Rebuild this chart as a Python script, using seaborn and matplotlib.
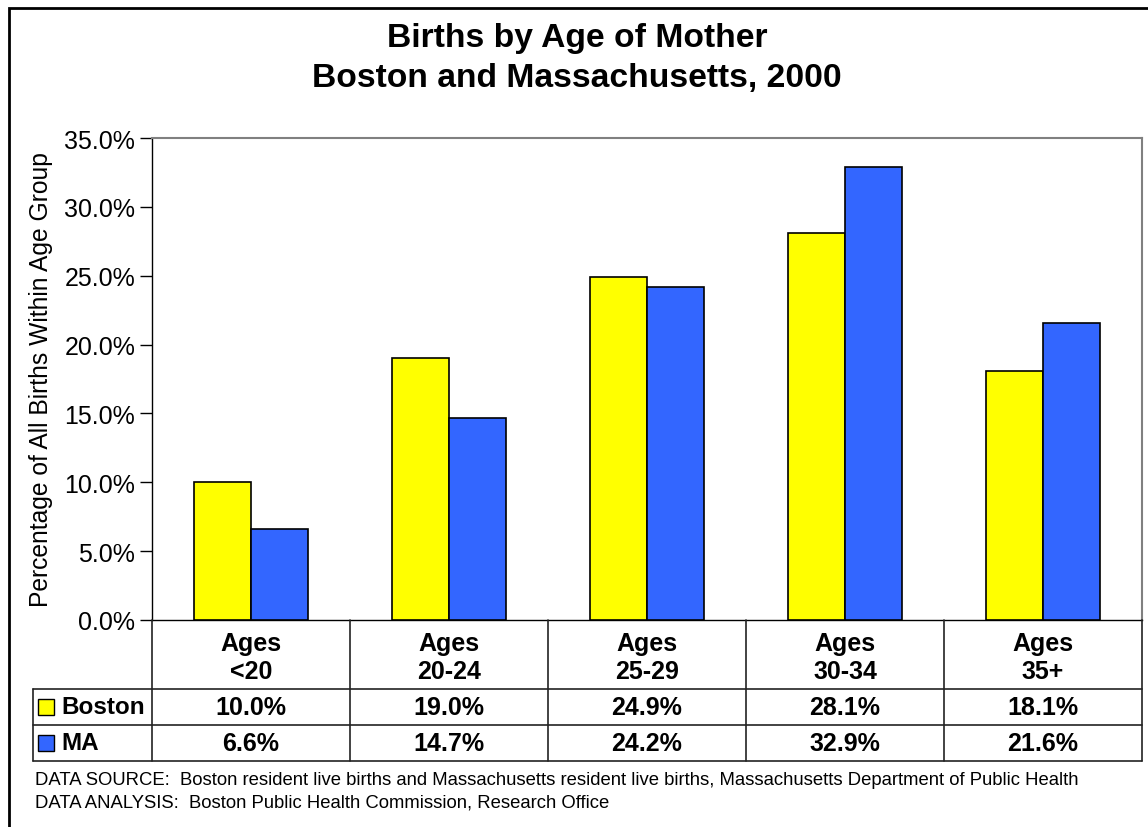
import pandas as pd
import numpy as np
import seaborn as sns
import matplotlib.pyplot as plt
from matplotlib.patches import Rectangle

# data
age_groups = ['Ages\n<20', 'Ages\n20-24', 'Ages\n25-29', 'Ages\n30-34', 'Ages\n35+']
boston = [10.0, 19.0, 24.9, 28.1, 18.1]
ma = [6.6, 14.7, 24.2, 32.9, 21.6]
series = ['Boston', 'MA']
colors = ['#FFFF00', '#3366FF']

df = pd.DataFrame({'group': age_groups * 2,
                   'pct': boston + ma,
                   'area': ['Boston'] * 5 + ['MA'] * 5})

sns.set_style('white')
plt.rcParams['font.family'] = 'sans-serif'
plt.rcParams['font.sans-serif'] = ['Liberation Sans', 'Arial', 'DejaVu Sans']
plt.rcParams['text.color'] = 'black'
plt.rcParams['axes.labelcolor'] = 'black'
plt.rcParams['ytick.color'] = 'black'

W, H = 1148, 828
fig = plt.figure(figsize=(W / 100, H / 100), dpi=100)

def fx(px):
    return px / W

def fy(py):
    return 1 - py / H

# outer frame
fig.patches.append(Rectangle((fx(9), fy(1000)), fx(1200), fy(9) - fy(1000),
                             transform=fig.transFigure, fill=False,
                             edgecolor='black', linewidth=2))

# main bar axes
ax = fig.add_axes([fx(152), fy(621), fx(1142) - fx(152), fy(139) - fy(621)])
sns.barplot(data=df, x='group', y='pct', hue='area', palette=colors, saturation=1,
            width=0.576, edgecolor='black', linewidth=1.2, ax=ax,
            legend=False, zorder=3)
ax.set_xlim(-0.5, 4.5)
ax.set_ylim(0, 35)
ax.set_yticks(np.arange(0, 35.1, 5))
ax.set_yticklabels([f'{v:.1f}%' for v in np.arange(0, 35.1, 5)], fontsize=18)
ax.set_xticks([])
ax.set_xlabel('')
ax.set_ylabel('Percentage of All Births Within Age Group', fontsize=17.7, labelpad=8)
ax.tick_params(axis='y', direction='out', length=9, width=1, color='black', pad=3, left=True)
for s in ['top', 'right']:
    ax.spines[s].set_color('#808080')
    ax.spines[s].set_linewidth(1.5)
ax.spines['left'].set_color('black')
ax.spines['bottom'].set_color('black')
ax.spines['left'].set_linewidth(1)
ax.spines['bottom'].set_linewidth(1)

# title
fig.text(fx(577), fy(38), 'Births by Age of Mother', ha='center', va='center',
         fontsize=24.2, fontweight='bold')
fig.text(fx(577), fy(78), 'Boston and Massachusetts, 2000', ha='center', va='center',
         fontsize=24.2, fontweight='bold')

# data table below the chart
leg_w = 119 / 198
tab = fig.add_axes([fx(33), fy(762), fx(1142) - fx(33), fy(621) - fy(762)])
tab.set_xlim(-0.5 - leg_w, 4.5)
tab.set_ylim(0, 141)
tab.axis('off')
lw = 1.2
lc = '#222222'
for x in np.arange(-0.5, 4.6, 1):
    tab.plot([x, x], [0, 141], color=lc, lw=lw, clip_on=False)
tab.plot([-0.5 - leg_w] * 2, [0, 72], color=lc, lw=lw, clip_on=False)
for y in [0, 36, 72]:
    tab.plot([-0.5 - leg_w, 4.5], [y, y], color=lc, lw=lw, clip_on=False)

for i, g in enumerate(age_groups):
    tab.text(i, 104, g, ha='center', va='center', fontsize=18, fontweight='bold',
             linespacing=1.2)
    tab.text(i, 54, f'{boston[i]:.1f}%', ha='center', va='center', fontsize=18,
             fontweight='bold')
    tab.text(i, 18, f'{ma[i]:.1f}%', ha='center', va='center', fontsize=18,
             fontweight='bold')

x0 = -0.5 - leg_w
for name, col, y in zip(series, colors, [54, 18]):
    tab.add_patch(Rectangle((x0 + 0.025, y - 8), 0.081, 16,
                            facecolor=col, edgecolor='black', lw=1))
    tab.text(x0 + 0.141, y, name, ha='left', va='center', fontsize=17.5,
             fontweight='bold')

# footer notes
fig.text(fx(35), fy(781), 'DATA SOURCE:  Boston resident live births and Massachusetts resident live births, Massachusetts Department of Public Health',
         ha='left', va='center', fontsize=13.3)
fig.text(fx(35), fy(803), 'DATA ANALYSIS:  Boston Public Health Commission, Research Office',
         ha='left', va='center', fontsize=13.3)

fig.savefig('out.png', dpi=100)
